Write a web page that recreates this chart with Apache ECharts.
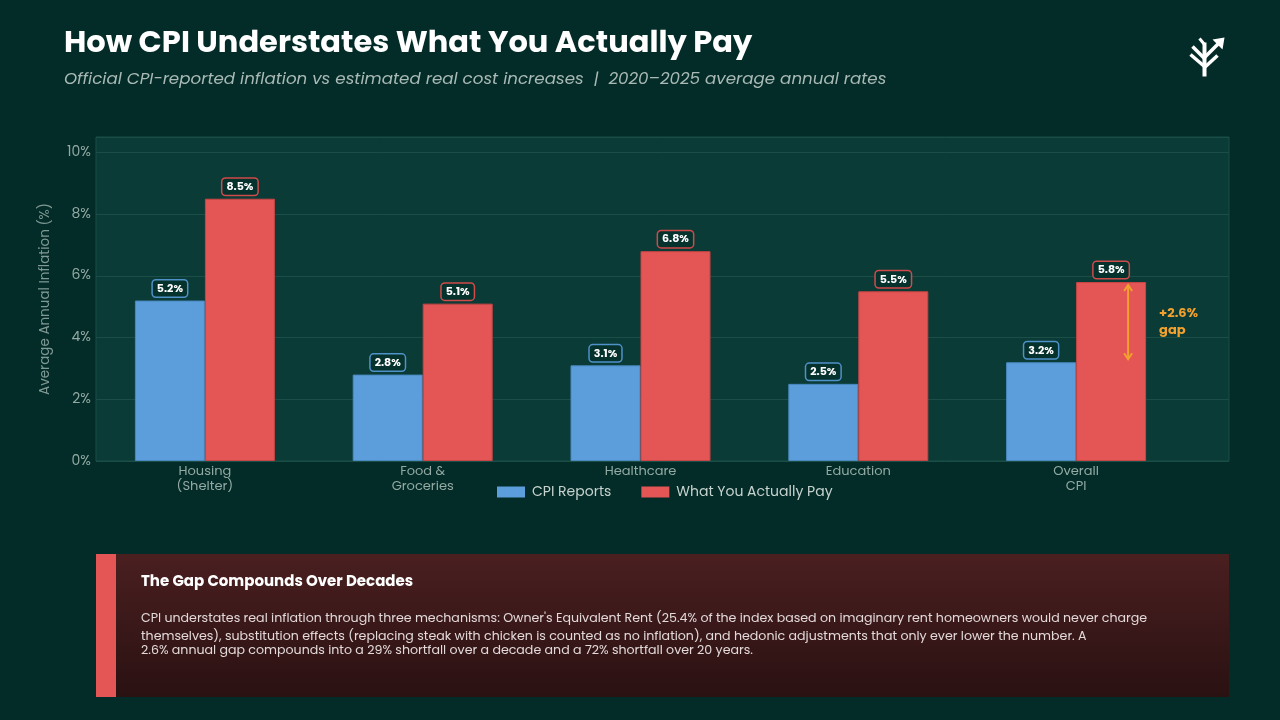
<!DOCTYPE html>
<html>
<head>
<meta charset="utf-8">
<script src="https://cdn.jsdelivr.net/npm/echarts@6/dist/echarts.min.js"></script>
<style>
html,body{margin:0;padding:0;background:#032b27;}
#c{width:1280px;height:720px;}
</style>
</head>
<body>
<div id="c"></div>
<script>
const categories = ['Housing\n(Shelter)', 'Food &\nGroceries', 'Healthcare', 'Education', 'Overall\nCPI'];
const cpiReports = [5.2, 2.8, 3.1, 2.5, 3.2];
const actuallyPay = [8.5, 5.1, 6.8, 5.5, 5.8];
const seriesNames = ['CPI Reports', 'What You Actually Pay'];
const yTicks = [0, 2, 4, 6, 8, 10];

const FONT = "Poppins, 'Open Sans', 'Noto Sans', sans-serif";
const BLUE = '#5b9edb', RED = '#e45555', ORANGE = '#f2a12e';

const chart = echarts.init(document.getElementById('c'));

function labelCfg(border) {
  return {
    show: true, position: 'top', distance: 4,
    formatter: p => p.value.toFixed(1) + '%',
    color: '#ffffff', fontFamily: FONT, fontWeight: 'bold', fontSize: 11,
    backgroundColor: '#06322d', borderColor: border, borderWidth: 1.5,
    borderRadius: 3, padding: [3, 4, 2, 4]
  };
}

const option = {
  backgroundColor: '#032b27',
  textStyle: { fontFamily: FONT },
  grid: [
    { left: 96, right: 51, top: 137, bottom: 259, show: true, backgroundColor: '#0a3b36', borderColor: '#1b4e47', borderWidth: 1 },
    { left: 96, width: 1089, top: 137, bottom: 259 }
  ],
  xAxis: [
    { gridIndex: 0, type: 'value', show: false, min: 0, max: 1 },
    { gridIndex: 1, type: 'category', data: categories,
      axisLine: { show: false }, axisTick: { show: false },
      axisLabel: { color: '#93aaa4', fontSize: 13, lineHeight: 15, margin: 3, fontFamily: FONT } }
  ],
  yAxis: [
    { gridIndex: 0, type: 'value', min: 0, max: 10.5, interval: 2,
      name: 'Average Annual Inflation (%)', nameLocation: 'middle', nameGap: 43,
      nameTextStyle: { color: '#7f9994', fontSize: 13.5, fontFamily: FONT },
      axisLine: { show: false }, axisTick: { show: false },
      axisLabel: { color: '#93aaa4', fontSize: 14, margin: 5, fontFamily: FONT, verticalAlign: 'middle', lineHeight: 14,
        padding: [5, 0, 0, 0],
        formatter: v => yTicks.indexOf(v) >= 0 ? v + '%' : '' },
      splitLine: { lineStyle: { color: '#1b4e47', width: 1 } } },
    { gridIndex: 1, type: 'value', min: 0, max: 10.5, show: false, splitLine: { show: false } }
  ],
  legend: {
    data: seriesNames, left: 492, top: 480, itemWidth: 28, itemHeight: 11, itemGap: 30,
    textStyle: { color: '#c5d2ce', fontSize: 14, fontFamily: FONT, padding: [0, 0, 0, 2] },
    itemStyle: { borderWidth: 0 },
    icon: 'rect'
  },
  series: [
    { name: seriesNames[0], type: 'bar', xAxisIndex: 1, yAxisIndex: 1, data: cpiReports,
      barWidth: 70, barGap: '0%',
      itemStyle: { color: BLUE, borderColor: '#4a88c0', borderWidth: 1 },
      label: labelCfg('#4f92c9') },
    { name: seriesNames[1], type: 'bar', xAxisIndex: 1, yAxisIndex: 1, data: actuallyPay,
      barWidth: 70, barGap: '0%',
      itemStyle: { color: RED, borderColor: '#c94545', borderWidth: 1 },
      label: labelCfg('#d04a4a') }
  ],
  graphic: []
};
chart.setOption(option);

// Annotation arrow for the overall gap (last category)
const last = categories.length - 1;
const pTop = chart.convertToPixel({ xAxisIndex: 1, yAxisIndex: 1 }, [last, actuallyPay[last]]);
const pBot = chart.convertToPixel({ xAxisIndex: 1, yAxisIndex: 1 }, [last, cpiReports[last]]);
const ax = pTop[0] + 35 + 17;
const y1 = pTop[1] + 3, y2 = pBot[1] - 3;
const gap = (actuallyPay[last] - cpiReports[last]).toFixed(1);

const graphics = [
  { type: 'text', left: 64, top: 29, style: { text: 'How CPI Understates What You Actually Pay', fill: '#ffffff', font: "bold 30.5px " + FONT } },
  { type: 'text', left: 64, top: 71, style: { text: 'Official CPI-reported inflation vs estimated real cost increases  |  2020\u20132025 average annual rates', fill: '#a9bab6', font: "italic 16.7px " + FONT } },
  // logo
  { type: 'group', left: 1188, top: 36, children: [
    { type: 'polyline', shape: { points: [[16, 6], [16, 40]] }, style: { stroke: '#fff', lineWidth: 4 } },
    { type: 'polyline', shape: { points: [[11, 2], [16, 8]] }, style: { stroke: '#fff', lineWidth: 3 } },
    { type: 'polyline', shape: { points: [[4, 10], [16, 22]] }, style: { stroke: '#fff', lineWidth: 3.5 } },
    { type: 'polyline', shape: { points: [[2, 18], [16, 30]] }, style: { stroke: '#fff', lineWidth: 3.5 } },
    { type: 'polyline', shape: { points: [[29, 19], [16, 31]] }, style: { stroke: '#fff', lineWidth: 3.5 } },
    { type: 'polyline', shape: { points: [[16, 21], [32, 5]] }, style: { stroke: '#fff', lineWidth: 3.5 } },
    { type: 'polygon', shape: { points: [[36, 1], [24, 3], [34, 13]] }, style: { fill: '#fff' } }
  ] },
  // arrow
  { type: 'line', shape: { x1: ax, y1: y1, x2: ax, y2: y2 }, style: { stroke: ORANGE, lineWidth: 2 }, z: 100 },
  { type: 'polyline', shape: { points: [[ax - 4, y1 + 6], [ax, y1], [ax + 4, y1 + 6]] }, style: { stroke: ORANGE, lineWidth: 2, fill: null }, z: 100 },
  { type: 'polyline', shape: { points: [[ax - 4, y2 - 6], [ax, y2], [ax + 4, y2 - 6]] }, style: { stroke: ORANGE, lineWidth: 2, fill: null }, z: 100 },
  { type: 'text', x: ax + 31, y: (y1 + y2) / 2, style: { text: '+' + gap + '%\ngap', fill: ORANGE, font: "bold 13px " + FONT, lineHeight: 17, verticalAlign: 'middle', align: 'left' }, z: 100 },
  // bottom panel
  { type: 'rect', shape: { x: 96, y: 554, width: 1133, height: 143 },
    style: { fill: new echarts.graphic.LinearGradient(0, 0, 0, 1, [{ offset: 0, color: '#4a1f20' }, { offset: 1, color: '#2a1112' }]) } },
  { type: 'rect', shape: { x: 96, y: 554, width: 20, height: 143 }, style: { fill: '#e45555' } },
  { type: 'text', x: 141, y: 575, style: { text: 'The Gap Compounds Over Decades', fill: '#ffffff', font: "bold 15px " + FONT } },
  { type: 'text', x: 141, y: 612, style: { text: "CPI understates real inflation through three mechanisms: Owner's Equivalent Rent (25.4% of the index based on imaginary rent homeowners would never charge", fill: '#e3d9d9', font: "12.6px " + FONT } },
  { type: 'text', x: 141, y: 630, style: { text: "themselves), substitution effects (replacing steak with chicken is counted as no inflation), and hedonic adjustments that only ever lower the number. A", fill: '#e3d9d9', font: "12.6px " + FONT } },
  { type: 'text', x: 141, y: 644, style: { text: "2.6% annual gap compounds into a 29% shortfall over a decade and a 72% shortfall over 20 years.", fill: '#e3d9d9', font: "12.6px " + FONT } }
];
chart.setOption({ graphic: graphics });
</script>
</body>
</html>
